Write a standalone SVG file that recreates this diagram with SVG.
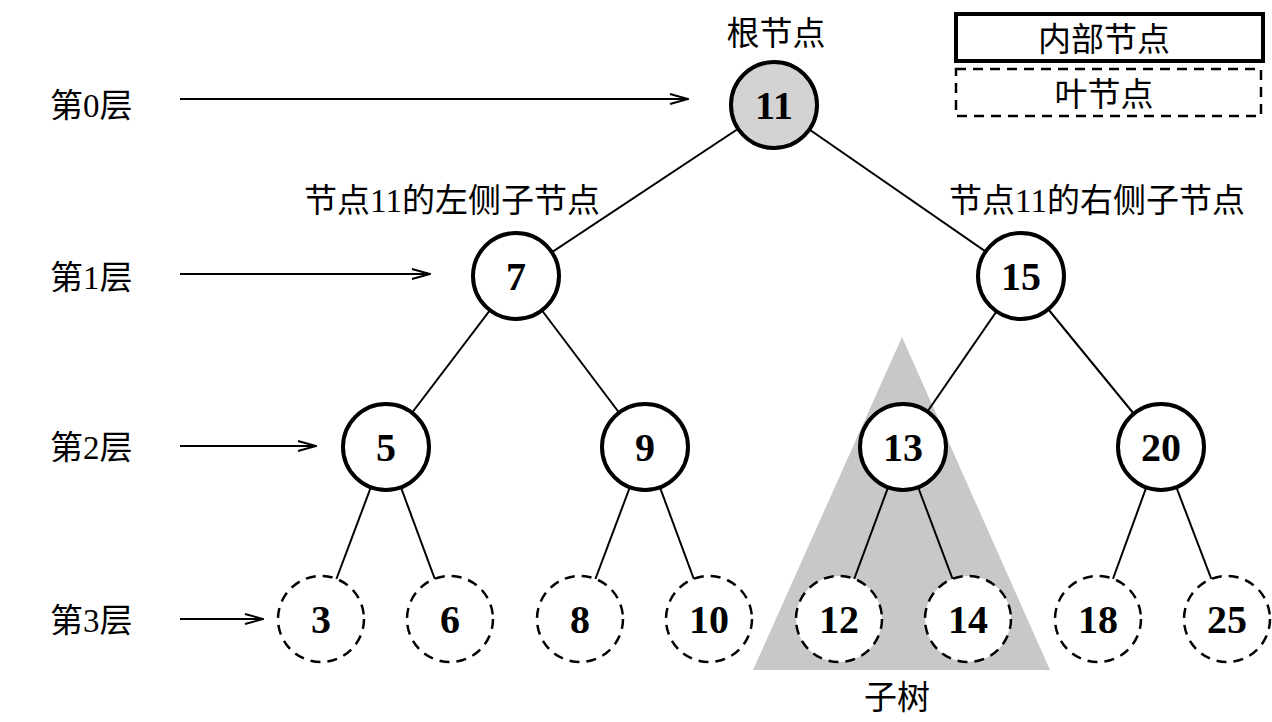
<svg xmlns="http://www.w3.org/2000/svg" width="1272" height="722" viewBox="0 0 1272 722">
<style>
.lbl{font-family:"Liberation Serif","Noto Sans CJK SC",serif;font-size:33px;fill:#000}
.num{font-family:"Liberation Serif",serif;font-size:40px;font-weight:bold;fill:#000;text-anchor:middle;dominant-baseline:central}
.inner{fill:#fff;stroke:#000;stroke-width:4}
.leaf{fill:#fff;stroke:#000;stroke-width:2.5;stroke-dasharray:10 7}
.edge{stroke:#000;stroke-width:2;fill:none}
.arr{stroke:#000;stroke-width:2;fill:none;marker-end:url(#ah)}
</style>
<defs>
<marker id="ah" viewBox="0 0 20 12" refX="19" refY="6" markerWidth="20" markerHeight="12" markerUnits="userSpaceOnUse" orient="auto">
<path d="M1,1 L19,6 L1,11" fill="none" stroke="#000" stroke-width="2"/>
</marker>
</defs>
<rect width="1272" height="722" fill="#fff"/>
<polygon id="subtree" points="902,337 753,670 1050,670" fill="#c8c8c8"/>
<g id="connectors">
<line class="edge" x1="774" y1="105" x2="516" y2="276"/>
<line class="edge" x1="774" y1="105" x2="1021" y2="276"/>
<line class="edge" x1="516" y1="276" x2="386" y2="447"/>
<line class="edge" x1="516" y1="276" x2="645" y2="447"/>
<line class="edge" x1="1021" y1="276" x2="903" y2="447"/>
<line class="edge" x1="1021" y1="276" x2="1161" y2="447"/>
<line class="edge" x1="386" y1="447" x2="321" y2="620"/>
<line class="edge" x1="386" y1="447" x2="450" y2="620"/>
<line class="edge" x1="645" y1="447" x2="580" y2="620"/>
<line class="edge" x1="645" y1="447" x2="709" y2="620"/>
<line class="edge" x1="903" y1="447" x2="839" y2="620"/>
<line class="edge" x1="903" y1="447" x2="968" y2="620"/>
<line class="edge" x1="1161" y1="447" x2="1098" y2="620"/>
<line class="edge" x1="1161" y1="447" x2="1227" y2="620"/>
<line class="arr" x1="180" y1="99" x2="688" y2="99"/>
<line class="arr" x1="180" y1="274" x2="430" y2="274"/>
<line class="arr" x1="180" y1="446" x2="316" y2="446"/>
<line class="arr" x1="180" y1="619" x2="263" y2="619"/>
</g>
<g id="n11"><circle cx="774" cy="105" r="43" fill="#d3d3d3" stroke="#000" stroke-width="4"/><text class="num" x="774" y="105">11</text></g>
<g id="n7"><circle class="inner" cx="516" cy="276" r="43"/><text class="num" x="516" y="276">7</text></g>
<g id="n15"><circle class="inner" cx="1021" cy="276" r="43"/><text class="num" x="1021" y="276">15</text></g>
<g id="n5"><circle class="inner" cx="386" cy="447" r="43"/><text class="num" x="386" y="447">5</text></g>
<g id="n9"><circle class="inner" cx="645" cy="447" r="43"/><text class="num" x="645" y="447">9</text></g>
<g id="n13"><circle class="inner" cx="903" cy="447" r="43"/><text class="num" x="903" y="447" font-weight="normal">13</text></g>
<g id="n20"><circle class="inner" cx="1161" cy="447" r="43"/><text class="num" x="1161" y="447">20</text></g>
<g id="n3"><circle class="leaf" cx="321" cy="619" r="43"/><text class="num" x="321" y="619">3</text></g>
<g id="n6"><circle class="leaf" cx="450" cy="619" r="43"/><text class="num" x="450" y="619">6</text></g>
<g id="n8"><circle class="leaf" cx="580" cy="619" r="43"/><text class="num" x="580" y="619">8</text></g>
<g id="n10"><circle class="leaf" cx="709" cy="619" r="43"/><text class="num" x="709" y="619">10</text></g>
<g id="n12"><circle class="leaf" cx="839" cy="619" r="43"/><text class="num" x="839" y="619">12</text></g>
<g id="n14"><circle class="leaf" cx="968" cy="619" r="43"/><text class="num" x="968" y="619">14</text></g>
<g id="n18"><circle class="leaf" cx="1098" cy="619" r="43"/><text class="num" x="1098" y="619">18</text></g>
<g id="n25"><circle class="leaf" cx="1227" cy="619" r="43"/><text class="num" x="1227" y="619">25</text></g>
<g id="legend">
<rect x="956" y="14" width="307" height="47" fill="#fff" stroke="#000" stroke-width="4"/>
<text class="lbl" x="1104" y="51" text-anchor="middle">内部节点</text>
<rect x="956" y="69" width="305" height="47" fill="#fff" stroke="#000" stroke-width="2.5" stroke-dasharray="10 7"/>
<text class="lbl" x="1104" y="106" text-anchor="middle">叶节点</text>
</g>
<g id="labels">
<text class="lbl" x="50" y="117">第0层</text>
<text class="lbl" x="50" y="289">第1层</text>
<text class="lbl" x="50" y="459">第2层</text>
<text class="lbl" x="50" y="632">第3层</text>
<text class="lbl" x="776" y="45" text-anchor="middle">根节点</text>
<text class="lbl" x="452" y="212" text-anchor="middle">节点11的左侧子节点</text>
<text class="lbl" x="1097" y="212" text-anchor="middle">节点11的右侧子节点</text>
<text class="lbl" x="897" y="709" text-anchor="middle">子树</text>
</g>
</svg>
